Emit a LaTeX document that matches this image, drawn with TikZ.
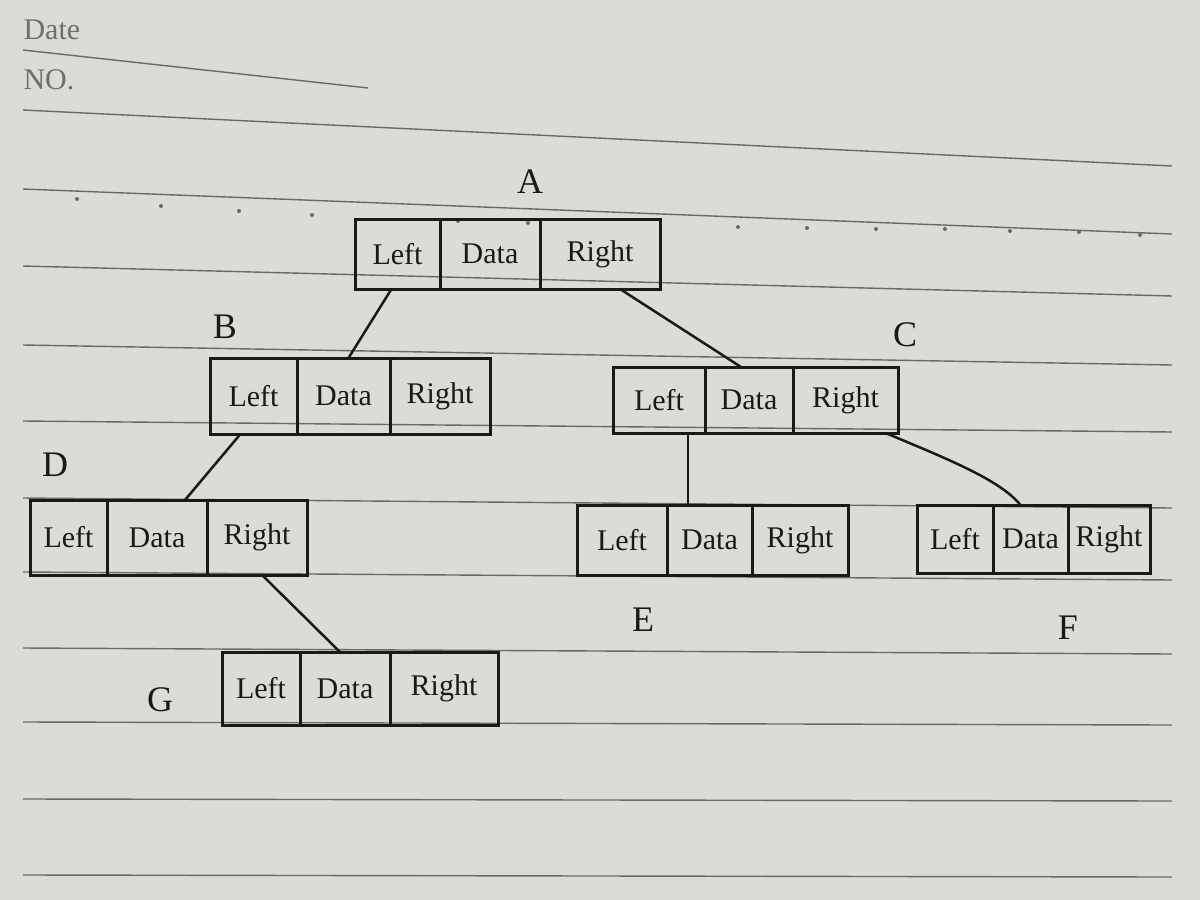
\documentclass[tikz,border=0pt]{standalone}
\usepackage{fontspec}
\setmainfont{Liberation Serif}
\definecolor{paper}{RGB}{220,220,214}
\definecolor{rulec}{RGB}{105,105,102}
\definecolor{ink}{RGB}{25,25,25}
\definecolor{printc}{RGB}{110,110,108}
\tikzset{
  cell/.style={draw=ink, line width=3pt, inner sep=0pt, outer sep=0pt, text=ink, font=\fontsize{30}{32}\selectfont},
  lab/.style={text=ink, font=\fontsize{36}{36}\selectfont},
  link/.style={draw=ink, line width=2.5pt},
  rule/.style={draw=rulec, line width=1.4pt},
  printed/.style={text=printc, font=\fontsize{30}{30}\selectfont, anchor=west}
}
\newcommand{\bnode}[7]{%
  \node[cell,minimum width=#4pt,minimum height=#7pt,anchor=north west] (#1L) at (#2,#3) {Left};
  \node[cell,minimum width=#5pt,minimum height=#7pt,anchor=north west] (#1D) at (#1L.north east) {Data};
  \node[cell,minimum width=#6pt,minimum height=#7pt,anchor=north west] (#1R) at (#1D.north east) {Right};}
\begin{document}
\begin{tikzpicture}[x=1pt,y=-1pt]
\useasboundingbox (0,0) rectangle (1200,900);
\fill[paper] (0,0) rectangle (1200,900);
% notebook header
\node[printed] (date) at (20,30) {Date};
\node[printed] (no) at (20,80) {NO.};
\draw[rule] (23,50) -- (368,88);
% ruled lines
\foreach \a/\b in {110/166,189/234,266/296,345/365,421/432,498/508,572/580,648/654,722/725,799/801,875/877}
  \draw[rule] (23,\a) -- (1172,\b);
\foreach \px/\py in {77/199,161/206,239/211,312/215,458/221,528/223,738/227,807/228,876/229,945/229,1010/231,1079/232,1140/235}
  \fill[rulec] (\px,\py) circle (2pt);
% tree nodes
\bnode{A}{355}{219}{85}{100}{120}{70}
\bnode{B}{210}{358}{87}{93}{100}{76}
\bnode{C}{613}{367}{92}{88}{105}{66}
\bnode{D}{30}{500}{77}{100}{100}{75}
\bnode{E}{577}{505}{90}{85}{96}{70}
\bnode{F}{917}{505}{76}{75}{82}{68}
\bnode{G}{222}{652}{78}{90}{108}{73}
% labels
\node[lab] (la) at (530,182) {A};
\node[lab] (lb) at (225,327) {B};
\node[lab] (lc) at (905,335) {C};
\node[lab] (ld) at (55,465) {D};
\node[lab] (le) at (643,620) {E};
\node[lab] (lf) at (1068,628) {F};
\node[lab] (lg) at (160,700) {G};
% connectors
\draw[link] ([xshift=-6pt]AL.south) -- ([xshift=5pt]BD.north);
\draw[link] ([xshift=20pt]AR.south) -- ([xshift=-8pt]CD.north);
\draw[link] ([xshift=-13pt]BL.south) -- ([xshift=28pt]DD.north);
\draw[link] ([xshift=-17pt]CD.south west) -- ([xshift=21pt]ED.north west);
\draw[link] ([xshift=40pt]CR.south) .. controls (950,460) and (1000,480) .. ([xshift=-10pt]FD.north);
\draw[link] ([xshift=5pt]DR.south) -- ([xshift=-5pt]GD.north);
\end{tikzpicture}
\end{document}
